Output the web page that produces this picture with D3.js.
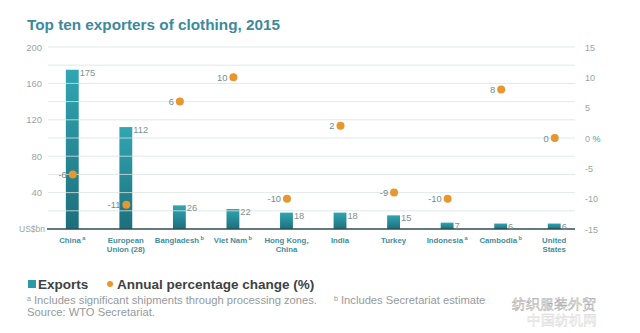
<!doctype html>
<html>
  <head>
    <meta charset="utf-8" />
    <title>Top ten exporters of clothing, 2015</title>
    <script src="https://cdn.jsdelivr.net/npm/d3@7"></script>
    <style>
      html,
      body {
        margin: 0;
        overflow: hidden;
        background: #fff;
      }
      text {
        font-family: "Liberation Sans", Arial, sans-serif;
      }
    </style>
  </head>
  <body>
    <script>
      // Data
      const countries = ["China", "European Union (28)", "Bangladesh", "Viet Nam", "Hong Kong, China",
        "India", "Turkey", "Indonesia", "Cambodia", "United States"];
      const labelLines = [["China"], ["European", "Union (28)"], ["Bangladesh"], ["Viet Nam"],
        ["Hong Kong,", "China"], ["India"], ["Turkey"], ["Indonesia"], ["Cambodia"], ["United", "States"]];
      const notes = ["a", "", "b", "b", "", "", "", "a", "b", ""];
      const exports = [175, 112, 26, 22, 18, 18, 15, 7, 6, 6];
      const change = [-6, -11, 6, 10, -10, 2, -9, -10, 8, 0];
      const leftTicks = [40, 80, 120, 160, 200];
      const gridValues = [20, 40, 60, 80, 100, 120, 140, 160, 180, 200];
      const rightTicks = [15, 10, 5, 0, -5, -10, -15];

      const width = 640;
      const height = 333;
      const teal = "#2a9aa8";
      const orange = "#e8962e";

      const svg = d3
        .select("body")
        .append("svg")
        .attr("width", width)
        .attr("height", height);

      const grad = svg
        .append("defs")
        .append("linearGradient")
        .attr("id", "barGrad")
        .attr("x1", 0)
        .attr("y1", 0)
        .attr("x2", 0)
        .attr("y2", 1);
      grad.append("stop").attr("offset", "0%").attr("stop-color", "#31a6b3");
      grad.append("stop").attr("offset", "100%").attr("stop-color", "#1c6f7b");

      const x = d3
        .scaleBand()
        .domain(countries)
        .range([45.5, 581])
        .paddingInner(0.76)
        .paddingOuter(0.38);
      const y = d3.scaleLinear().domain([0, 200]).range([229, 47]);
      const y2 = d3.scaleLinear().domain([-15, 15]).range([229, 47]);
      const cx = (i) => x(countries[i]) + x.bandwidth() / 2 + 0.5;

      // title
      svg
        .append("text")
        .attr("x", 27)
        .attr("y", 30)
        .attr("fill", "#3d8a9c")
        .attr("font-size", 15.3)
        .attr("font-weight", "bold")
        .text("Top ten exporters of clothing, 2015");

      // bars
      svg
        .append("g")
        .selectAll("rect")
        .data(exports)
        .join("rect")
        .attr("x", (d, i) => x(countries[i]))
        .attr("y", (d) => y(d))
        .attr("width", x.bandwidth())
        .attr("height", (d) => y(0) - y(d))
        .attr("fill", "url(#barGrad)");

      // gridlines (drawn over bars, light)
      svg
        .append("g")
        .selectAll("line")
        .data(gridValues)
        .join("line")
        .attr("x1", 48)
        .attr("x2", 575)
        .attr("y1", (d) => y(d))
        .attr("y2", (d) => y(d))
        .attr("stroke", "#dae2e4")
        .attr("stroke-opacity", 0.8)
        .attr("stroke-width", 1);

      // baseline
      svg
        .append("line")
        .attr("x1", 47)
        .attr("x2", 575)
        .attr("y1", y(0))
        .attr("y2", y(0))
        .attr("stroke", "#2f4d52")
        .attr("stroke-width", 1.5);

      // left axis labels
      svg
        .append("g")
        .selectAll("text")
        .data(leftTicks)
        .join("text")
        .attr("x", 42)
        .attr("y", (d) => y(d) + 3.5)
        .attr("text-anchor", "end")
        .attr("font-size", 9.5)
        .attr("fill", "#9aa4a7")
        .text((d) => d);
      svg
        .append("text")
        .attr("x", 45)
        .attr("y", y(0) + 3)
        .attr("text-anchor", "end")
        .attr("font-size", 8.5)
        .attr("fill", "#9aa4a7")
        .text("US$bn");

      // right axis labels
      const rt = svg
        .append("g")
        .selectAll("text")
        .data(rightTicks)
        .join("text")
        .attr("x", 585)
        .attr("y", (d) => y2(d) + 3.5)
        .attr("font-size", 9)
        .attr("fill", "#9aa4a7")
        .text((d) => d);
      rt.filter((d) => d === 0)
        .append("tspan")
        .attr("fill", "#3d9aa8")
        .text(" %");

      // bar value labels
      svg
        .append("g")
        .selectAll("text")
        .data(exports)
        .join("text")
        .attr("x", (d, i) => x(countries[i]) + x.bandwidth() + 1)
        .attr("y", (d) => y(d) + 6)
        .attr("font-size", 9.3)
        .attr("fill", "#7f9196")
        .text((d) => d);

      // dots
      svg
        .append("g")
        .selectAll("circle")
        .data(change)
        .join("circle")
        .attr("cx", (d, i) => cx(i))
        .attr("cy", (d) => y2(d))
        .attr("r", 4)
        .attr("fill", orange);

      svg
        .append("g")
        .selectAll("text")
        .data(change)
        .join("text")
        .attr("x", (d, i) => cx(i) - 6)
        .attr("y", (d) => y2(d) + 3.5)
        .attr("text-anchor", "end")
        .attr("font-size", 9.3)
        .attr("fill", "#6f8c94")
        .text((d) => d);

      // category labels
      const cat = svg
        .append("g")
        .selectAll("text")
        .data(countries)
        .join("text")
        .attr("x", (d) => x(d) + x.bandwidth() / 2)
        .attr("y", 243)
        .attr("text-anchor", "middle")
        .attr("font-size", 7.8)
        .attr("font-weight", "bold")
        .attr("fill", "#3f8ea0");
      cat.each(function (d, i) {
        const t = d3.select(this);
        labelLines[i].forEach((line, j) => {
          t.append("tspan")
            .attr("x", x(d) + x.bandwidth() / 2)
            .attr("dy", j === 0 ? 0 : 9)
            .text(line);
          if (j === labelLines[i].length - 1 && notes[i]) {
            t.append("tspan")
              .attr("font-size", 5.5)
              .attr("dy", -3)
              .text(" " + notes[i]);
          }
        });
      });

      // legend
      const lg = svg.append("g").attr("transform", "translate(28,284)");
      lg.append("rect").attr("x", 0).attr("y", -4).attr("width", 8).attr("height", 8).attr("fill", teal);
      lg.append("text")
        .attr("x", 10)
        .attr("y", 5)
        .attr("font-size", 13.5)
        .attr("font-weight", "bold")
        .attr("fill", "#3c4245")
        .text("Exports");
      lg.append("circle").attr("cx", 82).attr("cy", 0).attr("r", 3).attr("fill", orange);
      lg.append("text")
        .attr("x", 89)
        .attr("y", 5)
        .attr("font-size", 13.5)
        .attr("font-weight", "bold")
        .attr("fill", "#3c4245")
        .text("Annual percentage change (%)");

      // footnotes
      const fn = svg.append("g").attr("font-size", 11.2).attr("fill", "#959a9d");
      const f1 = fn.append("text").attr("x", 27).attr("y", 304);
      f1.append("tspan").attr("font-size", 7).attr("dy", -3).text("a");
      f1.append("tspan").attr("dy", 3).text(" Includes significant shipments through processing zones.");
      const f2 = fn.append("text").attr("x", 334).attr("y", 304);
      f2.append("tspan").attr("font-size", 7).attr("dy", -3).text("b");
      f2.append("tspan").attr("dy", 3).text(" Includes Secretariat estimates.");
      fn.append("text").attr("x", 27).attr("y", 316).text("Source: WTO Secretariat.");

      // watermark
      const wm = svg.append("g").attr("font-family", "Noto Sans CJK SC").attr("fill", "#ffffff");
      wm.append("rect").attr("x", 486).attr("y", 290).attr("width", 154).attr("height", 35).attr("fill", "#fff").attr("opacity", 0.9);
      wm.append("text")
        .attr("x", 512)
        .attr("y", 309)
        .attr("font-size", 14)
        .attr("stroke", "#a8a8a8")
        .attr("stroke-width", 0.5)
        .text("纺织服装外贸");
      wm.append("text")
        .attr("x", 527)
        .attr("y", 325)
        .attr("font-size", 14)
        .attr("stroke", "#dadada")
        .attr("stroke-width", 0.5)
        .text("中国纺机网");
    </script>
  </body>
</html>
